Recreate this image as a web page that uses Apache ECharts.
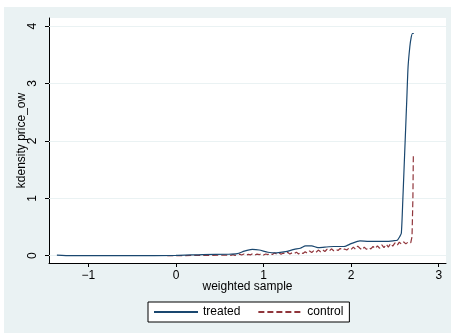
<!DOCTYPE html>
<html>
<head>
<meta charset="utf-8">
<script src="https://cdn.jsdelivr.net/npm/echarts@6/dist/echarts.min.js"></script>
<style>
  html, body { margin: 0; padding: 0; background: #ffffff; width: 451px; height: 334px; overflow: hidden; }
  #chart { position: absolute; left: 4px; top: 7px; width: 447px; height: 326px; }
</style>
</head>
<body>
<div id="chart"></div>
<script>
// Kernel density of price_ow, weighted sample
const treatedX = [-1.36, -1.2, -1.0, -0.5, 0.0, 0.3, 0.6, 0.7, 0.78, 0.87, 0.95, 1.05, 1.15, 1.25, 1.35, 1.42, 1.48, 1.55, 1.62, 1.7, 1.8, 1.92, 2.0, 2.1, 2.2, 2.3, 2.4, 2.48, 2.527, 2.554, 2.573, 2.59, 2.605, 2.62, 2.635, 2.65, 2.67, 2.685, 2.70, 2.715];
const treatedY = [0.01, 0.0, 0.0, 0.0, 0.005, 0.02, 0.025, 0.035, 0.08, 0.11, 0.10, 0.06, 0.05, 0.07, 0.11, 0.13, 0.17, 0.17, 0.14, 0.15, 0.16, 0.16, 0.21, 0.26, 0.25, 0.25, 0.25, 0.26, 0.27, 0.33, 0.39, 0.97, 1.55, 2.13, 2.71, 3.29, 3.64, 3.80, 3.87, 3.87];

const controlX = [-0.1, 0.0, 0.1, 0.2, 0.3, 0.4, 0.5, 0.6, 0.625, 0.65, 0.675, 0.7, 0.725, 0.75, 0.775, 0.8, 0.825, 0.85, 0.875, 0.9, 0.925, 0.95, 0.975,
  1.0, 1.025, 1.05, 1.075, 1.1, 1.125, 1.15, 1.175, 1.2, 1.225, 1.25, 1.275, 1.3, 1.325, 1.35, 1.375, 1.4, 1.425, 1.45, 1.475,
  1.5, 1.525, 1.55, 1.575, 1.6, 1.625, 1.65, 1.675, 1.7, 1.725, 1.75, 1.775, 1.8, 1.825, 1.85, 1.875, 1.9, 1.925, 1.95, 1.975,
  2.0, 2.025, 2.05, 2.075, 2.1, 2.125, 2.15, 2.175, 2.2, 2.225, 2.25, 2.275, 2.3, 2.325, 2.35, 2.375, 2.4, 2.425, 2.45, 2.475,
  2.5, 2.525, 2.55, 2.575, 2.6, 2.625, 2.65, 2.68, 2.695, 2.705, 2.71];
const controlY = [0.000, 0.002, 0.003, 0.004, 0.006, 0.006, 0.008, 0.010, 0.004, 0.018, 0.006, 0.014, 0.028, 0.012, 0.030, 0.008, 0.024, 0.014, 0.034, 0.010, 0.028, 0.018, 0.036,
  0.012, 0.030, 0.020, 0.040, 0.022, 0.048, 0.030, 0.052, 0.026, 0.046, 0.034, 0.060, 0.028, 0.050, 0.036, 0.062, 0.030, 0.058, 0.040, 0.070,
  0.044, 0.082, 0.056, 0.090, 0.060, 0.098, 0.070, 0.104, 0.074, 0.112, 0.080, 0.120, 0.086, 0.110, 0.090, 0.128, 0.096, 0.118, 0.100, 0.132,
  0.108, 0.150, 0.112, 0.168, 0.130, 0.100, 0.150, 0.110, 0.142, 0.118, 0.160, 0.124, 0.172, 0.130, 0.190, 0.140, 0.200, 0.150, 0.212, 0.166,
  0.224, 0.180, 0.236, 0.200, 0.240, 0.206, 0.238, 0.225, 0.330, 1.000, 1.740];

const xTicks = [-1, 0, 1, 2, 3];
const yTicks = [0, 1, 2, 3, 4];

const pairs = (xs, ys) => xs.map((x, i) => [x, ys[i]]);

const chart = echarts.init(document.getElementById('chart'));
const font = '"Liberation Sans", Arial, sans-serif';

chart.setOption({
  backgroundColor: '#eaf2f3',
  animation: false,
  grid: {
    left: 45, right: 5, top: 11, bottom: 70,
    show: true, backgroundColor: '#ffffff', borderWidth: 0
  },
  xAxis: {
    type: 'value', min: -1.45, max: 3.083,
    name: 'weighted sample', nameLocation: 'middle', nameGap: 18, nameMoveOverlap: false,
    nameTextStyle: { fontFamily: font, fontSize: 12, color: '#000' },
    axisLine: { show: true, onZero: false, lineStyle: { color: '#000', width: 1 } },
    axisTick: { show: true, length: 4, customValues: xTicks, lineStyle: { color: '#000' } },
    axisLabel: { customValues: xTicks, margin: 7, fontFamily: font, fontSize: 12, color: '#000',
      formatter: v => (v < 0 ? '\u2212' + Math.abs(v) : String(v)) },
    splitLine: { show: false }
  },
  yAxis: {
    type: 'value', min: -0.127, max: 4.14,
    name: 'kdensity price_ow', nameLocation: 'middle', nameGap: 21, nameMoveOverlap: false,
    nameTextStyle: { fontFamily: font, fontSize: 12, color: '#000' },
    axisLine: { show: true, onZero: false, lineStyle: { color: '#000', width: 1 } },
    axisTick: { show: true, length: 4, customValues: yTicks, lineStyle: { color: '#000' } },
    axisLabel: { customValues: yTicks, rotate: 90, margin: 10, fontFamily: font, fontSize: 12, color: '#000' },
    splitLine: { show: false }
  },
  legend: {
    left: 144, top: 295,
    padding: [4, 6, 4, 5],
    itemGap: 17, itemWidth: 44, itemHeight: 12,
    backgroundColor: '#ffffff', borderColor: '#000', borderWidth: 1, borderRadius: 0,
    textStyle: { fontFamily: font, fontSize: 12, color: '#000' },
    itemStyle: { opacity: 0 },
    data: ['treated', 'control']
  },
  series: [
    {
      name: 'treated', type: 'line', symbol: 'none', showSymbol: false,
      data: pairs(treatedX, treatedY),
      smooth: 0.2,
      lineStyle: { color: '#1a476f', width: 1.2 },
      itemStyle: { color: '#1a476f' },
      markLine: {
        silent: true, symbol: 'none', label: { show: false },
        lineStyle: { color: '#eaf2f3', width: 1, type: 'solid' },
        data: yTicks.map(v => ({ yAxis: v })),
        z: 1
      },
      z: 3
    },
    {
      name: 'control', type: 'line', symbol: 'none', showSymbol: false,
      data: pairs(controlX, controlY),
      lineStyle: { color: '#90353b', width: 1.2, type: [6, 3] },
      itemStyle: { color: '#90353b' },
      z: 2
    }
  ]
});
</script>
</body>
</html>
